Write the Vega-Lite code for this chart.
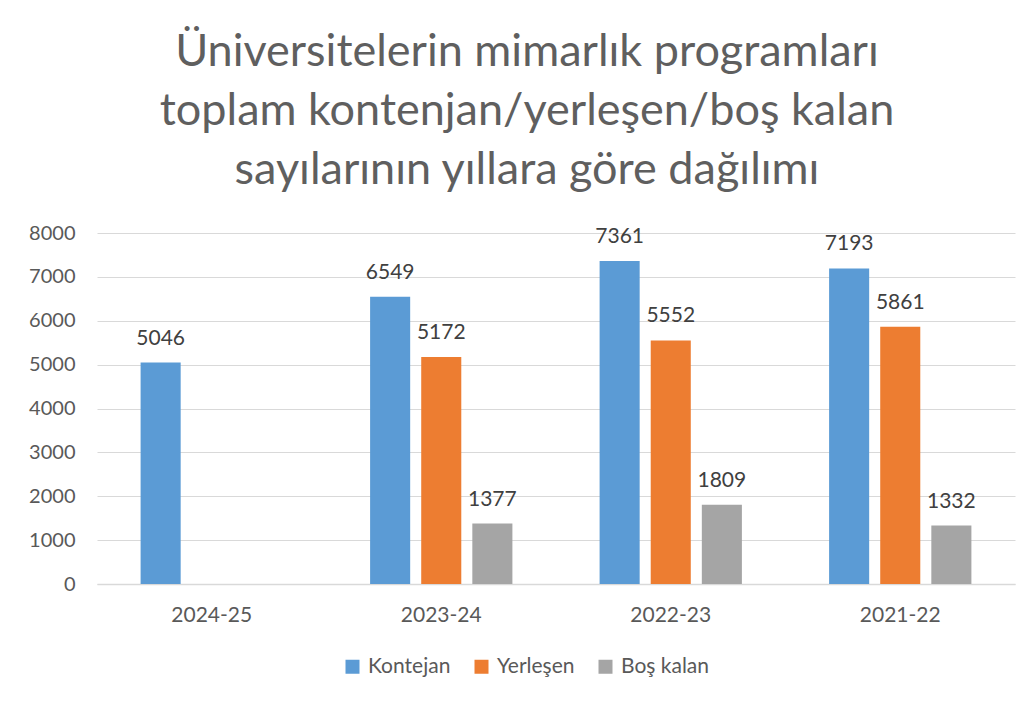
{
  "$schema": "https://vega.github.io/schema/vega-lite/v6.json",
  "width": 918,
  "height": 351,
  "autosize": {"type": "none"},
  "padding": {"left": 97, "top": 233, "right": 21, "bottom": 122},
  "background": "white",
  "title": {
    "text": ["Üniversitelerin mimarlık programları", "toplam kontenjan/yerleşen/boş kalan", "sayılarının yıllara göre dağılımı"],
    "font": "Lato",
    "fontSize": 45,
    "fontWeight": 400,
    "color": "#5f5f5f",
    "lineHeight": 59,
    "anchor": "middle",
    "frame": "group",
    "dx": -29,
    "offset": 30
  },
  "data": {
    "values": [
      {"yil": "2024-25", "seri": "Kontejan", "deger": 5046},
      {"yil": "2023-24", "seri": "Kontejan", "deger": 6549},
      {"yil": "2023-24", "seri": "Yerleşen", "deger": 5172},
      {"yil": "2023-24", "seri": "Boş kalan", "deger": 1377},
      {"yil": "2022-23", "seri": "Kontejan", "deger": 7361},
      {"yil": "2022-23", "seri": "Yerleşen", "deger": 5552},
      {"yil": "2022-23", "seri": "Boş kalan", "deger": 1809},
      {"yil": "2021-22", "seri": "Kontejan", "deger": 7193},
      {"yil": "2021-22", "seri": "Yerleşen", "deger": 5861},
      {"yil": "2021-22", "seri": "Boş kalan", "deger": 1332}
    ]
  },
  "encoding": {
    "x": {
      "field": "yil", "type": "nominal",
      "sort": ["2024-25", "2023-24", "2022-23", "2021-22"],
      "scale": {"paddingInner": 0.38, "paddingOuter": 0.19},
      "axis": {"title": null, "labelAngle": 0, "labelFont": "Lato", "labelFontSize": 21, "labelColor": "#595959", "labelPadding": 20, "ticks": false, "domainColor": "#d9d9d9", "domainWidth": 1.5, "grid": false}
    },
    "xOffset": {
      "field": "seri", "type": "nominal",
      "sort": ["Kontejan", "Yerleşen", "Boş kalan"],
      "scale": {"paddingInner": 0.216, "paddingOuter": 0}
    },
    "y": {
      "field": "deger", "type": "quantitative",
      "scale": {"domain": [0, 8000]},
      "axis": {"title": null, "format": "d", "values": [0,1000,2000,3000,4000,5000,6000,7000,8000], "labelFont": "Lato", "labelFontSize": 20, "labelColor": "#595959", "labelPadding": 22, "ticks": false, "domain": false, "gridColor": "#d9d9d9", "gridWidth": 1.2}
    }
  },
  "layer": [
    {
      "mark": {"type": "bar"},
      "encoding": {
        "color": {
          "field": "seri", "type": "nominal",
          "sort": ["Kontejan", "Yerleşen", "Boş kalan"],
          "scale": {"domain": ["Kontejan", "Yerleşen", "Boş kalan"], "range": ["#5B9BD5", "#ED7D31", "#A5A5A5"]},
          "legend": {"title": null, "orient": "none", "legendX": 245, "legendY": 423, "direction": "horizontal", "symbolType": "square", "symbolSize": 196, "symbolStrokeWidth": 0, "labelFont": "Lato", "labelFontSize": 21, "labelColor": "#595959", "columnPadding": 20, "labelOffset": 5}
        }
      }
    },
    {
      "mark": {"type": "text", "baseline": "bottom", "dy": -14, "font": "Lato", "fontSize": 21, "color": "#404040"},
      "encoding": {
        "text": {"field": "deger", "type": "quantitative", "format": "d"}
      }
    }
  ],
  "config": {"view": {"stroke": null}}
}
